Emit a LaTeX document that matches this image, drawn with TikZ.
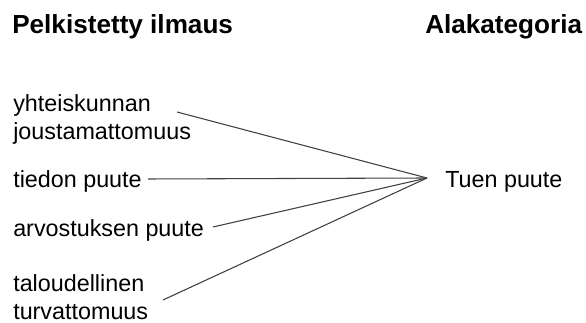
\documentclass[tikz,border=0pt]{standalone}
\usepackage{fontspec}
\setmainfont{Liberation Sans}
\usetikzlibrary{positioning}

\begin{document}
\begin{tikzpicture}[x=0.75pt, y=-0.75pt,
    head/.style={anchor=base west, inner sep=0pt, font=\fontsize{19.6}{23}\selectfont\bfseries},
    expr/.style={anchor=base west, inner sep=0pt, align=left, font=\fontsize{17.5}{21}\selectfont},
    link/.style={draw=black!75, line width=0.8pt}]
    \useasboundingbox (0,0) rectangle (586,323);

    % Headings
    \node[head] (hexpr) at (12,34) {Pelkistetty ilmaus};
    \node[head] (hcat) at (425,34) {Alakategoria};

    % Simplified expressions (base = last line)
    \node[expr] (yht) at (13,140) {yhteiskunnan\\joustamattomuus};
    \node[expr] (tie) at (13,188) {tiedon puute};
    \node[expr] (arv) at (13,237) {arvostuksen puute};
    \node[expr] (tal) at (13,320) {taloudellinen\\turvattomuus};

    % Subcategory
    \coordinate (hub) at (427,178);
    \node[expr] (tuki) at (445,188) {Tuen puute};

    % Connectors
    \coordinate (yht-end) at (177,112);
    \coordinate (tie-end) at (148,179);
    \coordinate (arv-end) at (213,227);
    \coordinate (tal-end) at (163,300);
    \foreach \s in {yht-end, tie-end, arv-end, tal-end}
        \draw[link] (\s) -- (hub);
\end{tikzpicture}
\end{document}
